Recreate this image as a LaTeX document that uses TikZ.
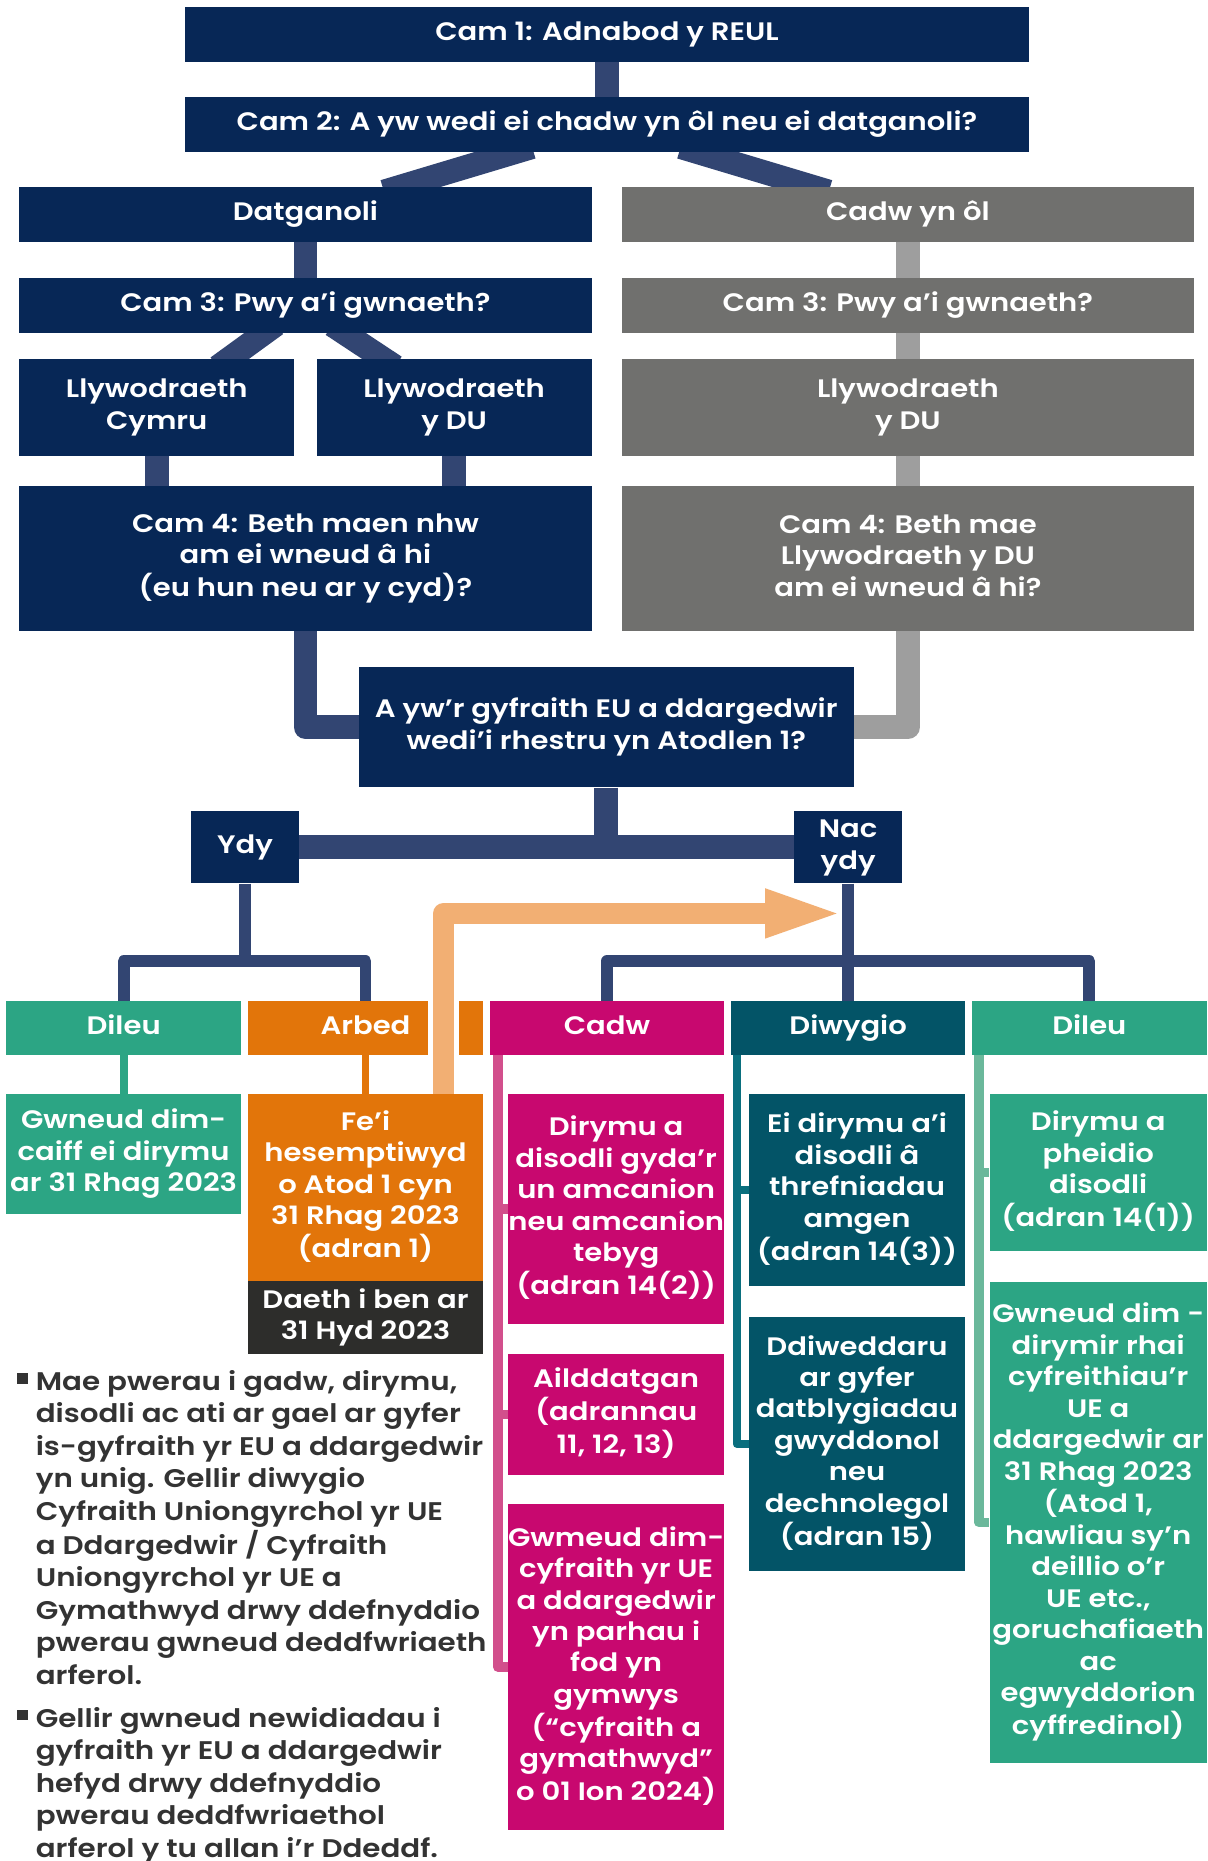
\documentclass[tikz,border=0pt]{standalone}
\usepackage{fontspec}
\setmainfont{Poppins}[UprightFont={* SemiBold}, FakeStretch=1.15]
\usetikzlibrary{backgrounds}
\definecolor{navy}{HTML}{072756}
\definecolor{navyline}{HTML}{324572}
\definecolor{greybox}{HTML}{70706E}
\definecolor{greyline}{HTML}{9E9E9E}
\definecolor{cgreen}{HTML}{2CA584}
\definecolor{corange}{HTML}{E2750A}
\definecolor{lorange}{HTML}{F2AF73}
\definecolor{cmag}{HTML}{C8086F}
\definecolor{pinkline}{HTML}{D24F8C}
\definecolor{dteal}{HTML}{035467}
\definecolor{tealline}{HTML}{0A6F7E}
\definecolor{lgreenline}{HTML}{6BB89B}
\definecolor{dgrey}{HTML}{2D2D2B}
\definecolor{txtgrey}{HTML}{333333}
\newcommand{\boxtxt}[1]{\makebox[0pt]{\begin{tabular}{@{}c@{}}#1\end{tabular}}}
\tikzset{
  box/.style={inner sep=0pt, text=white, font=\fontsize{21.3}{26.5}\selectfont},
  conn/.style={draw=navyline, line width=20pt, line join=round},
  gconn/.style={draw=greyline, line width=20pt, line join=round},
  tconn/.style={draw=navyline, line width=10pt, line join=round},
  sidel/.style={line width=7.5pt, line join=round},
  bultext/.style={inner sep=0pt, anchor=base west, text=txtgrey, font=\fontsize{21.5}{27.4}\selectfont},
  bulsq/.style={fill=txtgrey, inner sep=0pt, minimum width=10pt, minimum height=9pt},
}
\begin{document}
\begin{tikzpicture}[x=1pt,y=-1pt]
\useasboundingbox (0,0) rectangle (1018,1568.3);
% top
\node[box, fill=navy, minimum width=711pt, minimum height=46.4pt] (cam1) at (511.5,28.8) {\boxtxt{Cam 1: Adnabod y REUL}};
\node[box, fill=navy, minimum width=711pt, minimum height=46.1pt] (cam2) at (511.5,104.75) {\boxtxt{Cam 2: A yw wedi ei chadw yn ôl neu ei datganoli?}};
\node[box, fill=navy, minimum width=482.4pt, minimum height=46.1pt] (datg) at (257.4,180.65) {\boxtxt{Datganoli}};
\node[box, fill=greybox, minimum width=482.4pt, minimum height=46.1pt] (cadwyn) at (765.1,180.65) {\boxtxt{Cadw yn ôl}};
\node[box, fill=navy, minimum width=482.4pt, minimum height=46pt] (cam3L) at (257.4,257.3) {\boxtxt{Cam 3: Pwy a’i gwnaeth?}};
\node[box, fill=greybox, minimum width=482.4pt, minimum height=46pt] (cam3R) at (765.1,257.3) {\boxtxt{Cam 3: Pwy a’i gwnaeth?}};
\node[box, fill=navy, minimum width=231.8pt, minimum height=81.5pt] (llywC) at (132.1,343.25) {\boxtxt{Llywodraeth\\Cymru}};
\node[box, fill=navy, minimum width=231.8pt, minimum height=81.5pt] (llywDU) at (382.7,343.25) {\boxtxt{Llywodraeth\\y DU}};
\node[box, fill=greybox, minimum width=482.4pt, minimum height=81.5pt] (llywR) at (765.1,343.25) {\boxtxt{Llywodraeth\\y DU}};
\node[box, fill=navy, minimum width=482.4pt, minimum height=121.8pt] (cam4L) at (257.4,470.5) {\boxtxt{Cam 4: Beth maen nhw\\am ei wneud â hi\\(eu hun neu ar y cyd)?}};
\node[box, fill=greybox, minimum width=482.4pt, minimum height=121.8pt] (cam4R) at (765.1,470.5) {\boxtxt{Cam 4: Beth mae\\Llywodraeth y DU\\am ei wneud â hi?}};
\node[box, fill=navy, minimum width=416.8pt, minimum height=101.5pt] (ayw) at (510.9,612.85) {\boxtxt{A yw’r gyfraith EU a ddargedwir\\wedi’i rhestru yn Atodlen 1?}};
\node[box, fill=navy, minimum width=91pt, minimum height=61.1pt] (ydy) at (206.5,713.95) {\boxtxt{Ydy}};
\node[box, fill=navy, minimum width=90.9pt, minimum height=61.1pt] (nac) at (714.75,713.95) {\boxtxt{Nac\\ydy}};
% headers
\node[box, fill=cgreen, minimum width=198pt, minimum height=45.3pt] (dileuL) at (104.2,866.25) {\boxtxt{Dileu}};
\node[box, fill=corange, minimum width=198pt, minimum height=45.3pt] (arbed) at (308,866.25) {\boxtxt{Arbed}};
\node[box, fill=cmag, minimum width=197pt, minimum height=45.3pt] (cadw) at (511.5,866.25) {\boxtxt{Cadw}};
\node[box, fill=dteal, minimum width=197.5pt, minimum height=45.3pt] (diwygio) at (714.75,866.25) {\boxtxt{Diwygio}};
\node[box, fill=cgreen, minimum width=198pt, minimum height=45.3pt] (dileuR) at (918,866.25) {\boxtxt{Dileu}};
% lower boxes
\node[box, fill=cgreen, minimum width=198pt, minimum height=101.1pt] (gwneudL) at (104.2,972.55) {\boxtxt{Gwneud dim-\\caiff ei dirymu\\ar 31 Rhag 2023}};
\node[box, fill=corange, minimum width=198pt, minimum height=157.5pt] (fei) at (308,1000.75) {\boxtxt{Fe’i\\hesemptiwyd\\o Atod 1 cyn\\31 Rhag 2023\\(adran 1)}};
\node[box, fill=dgrey, minimum width=198pt, minimum height=61.5pt] (daeth) at (308,1110.25) {\boxtxt{Daeth i ben ar\\31 Hyd 2023}};
\node[box, fill=cmag, minimum width=181.5pt, minimum height=193.6pt] (cadw1) at (519.25,1018.8) {\boxtxt{Dirymu a\\disodli gyda'r\\un amcanion\\neu amcanion\\tebyg\\(adran 14(2))}};
\node[box, fill=cmag, minimum width=181.5pt, minimum height=101.7pt] (cadw2) at (519.25,1191.95) {\boxtxt{Ailddatgan\\(adrannau\\11, 12, 13)}};
\node[box, fill=cmag, minimum width=181.5pt, minimum height=274.8pt] (cadw3) at (519.25,1404.8) {\boxtxt{Gwmeud dim-\\cyfraith yr UE\\a ddargedwir\\yn parhau i\\fod yn\\gymwys\\(“cyfraith a\\gymathwyd”\\o 01 Ion 2024)}};
\node[box, fill=dteal, minimum width=182.5pt, minimum height=162.1pt] (diw1) at (722.25,1003.05) {\boxtxt{Ei dirymu a’i\\disodli â\\threfniadau\\amgen\\(adran 14(3))}};
\node[box, fill=dteal, minimum width=182.5pt, minimum height=214.2pt] (diw2) at (722.25,1216.7) {\boxtxt{Ddiweddaru\\ar gyfer\\datblygiadau\\gwyddonol\\neu\\dechnolegol\\(adran 15)}};
\node[box, fill=cgreen, minimum width=183pt, minimum height=132.1pt] (dil1) at (925.5,988.05) {\boxtxt{Dirymu a\\pheidio\\disodli\\(adran 14(1))}};
\node[box, fill=cgreen, minimum width=183pt, minimum height=405.8pt] (dil2) at (925.5,1282.9) {\boxtxt{Gwneud dim -\\dirymir rhai\\cyfreithiau’r\\UE a\\ddargedwir ar\\31 Rhag 2023\\(Atod 1,\\hawliau sy'n\\deillio o'r\\UE etc.,\\goruchafiaeth\\ac\\egwyddorion\\cyffredinol)}};
% bullets
\node[bulsq] (sq1) at (19,1161.5) {};
\node[bultext] (bul1) at (30,1171.6) {\begin{tabular}[t]{@{}l@{}}Mae pwerau i gadw, dirymu,\\disodli ac ati ar gael ar gyfer\\is-gyfraith yr EU a ddargedwir\\yn unig. Gellir diwygio\\Cyfraith Uniongyrchol yr UE\\a Ddargedwir / Cyfraith\\Uniongyrchol yr UE a\\Gymathwyd drwy ddefnyddio\\pwerau gwneud deddfwriaeth\\arferol.\end{tabular}};
\node[bulsq] (sq2) at (19,1445.3) {};
\node[bultext] (bul2) at (30,1455.6) {\begin{tabular}[t]{@{}l@{}}Gellir gwneud newidiadau i\\gyfraith yr EU a ddargedwir\\hefyd drwy ddefnyddio\\pwerau deddfwriaethol\\arferol y tu allan i'r Ddeddf.\end{tabular}};
% helper coordinates
\coordinate (ybar) at (0,810);
\coordinate (arrx) at (374,0);
\coordinate (arry) at (0,769.8);
\coordinate (headbase) at (646,769.8);
\coordinate (px) at (419.5,0);
\coordinate (tx) at (621,0);
\coordinate (gx) at (825,0);
\begin{pgfonlayer}{background}
\fill[white] (0,0) rectangle (1018,1568.3);
\draw[conn] (cam1) -- (cam2);
\draw[conn, shorten <=-14pt, shorten >=-14pt] ([xshift=-76.5pt]cam2.south) -- ([xshift=79.6pt]datg.north);
\draw[conn, shorten <=-14pt, shorten >=-14pt] ([xshift=75.5pt]cam2.south) -- ([xshift=-80.1pt]cadwyn.north);
\draw[conn] (datg) -- (cam3L);
\draw[conn, shorten <=-12pt, shorten >=-12pt] ([xshift=-34.4pt]cam3L.south) -- ([xshift=60.9pt]llywC.north);
\draw[conn, shorten <=-12pt, shorten >=-12pt] ([xshift=32.6pt]cam3L.south) -- ([xshift=-59.7pt]llywDU.north);
\draw[conn] (llywC.south) -- (llywC.south |- cam4L.north);
\draw[conn] (llywDU.south) -- (llywDU.south |- cam4L.north);
\draw[gconn] (cadwyn) -- (cam3R);
\draw[gconn] (cam3R) -- (llywR);
\draw[gconn] (llywR) -- (cam4R);
\draw[conn] (cam4L.south) -- (cam4L.south |- ayw.west) -- (ayw.west);
\draw[gconn] (cam4R.south) -- (cam4R.south |- ayw.east) -- (ayw.east);
\draw[conn] (ayw.south) -- (ayw.south |- ydy.east);
\draw[conn] (ydy) -- (nac);
\draw[tconn] (ydy.south) -- (ydy.south |- ybar);
\draw[tconn] (dileuL.north) -- (dileuL.north |- ybar) -- (arbed.north |- ybar) -- (arbed.north);
\draw[tconn] (nac.south) -- (diwygio.north);
\draw[tconn] (cadw.north) -- (cadw.north |- ybar) -- (dileuR.north |- ybar) -- (dileuR.north);
\draw[draw=cgreen, line width=6.5pt] (dileuL) -- (gwneudL);
\draw[draw=corange, line width=6.5pt] (arbed) -- (fei);
% side lines
\draw[sidel, draw=pinkline, line width=8pt] (cadw.south -| px) -- (px |- cadw3.west) -- (cadw3.west);
\draw[sidel, draw=pinkline, line width=8pt] (px |- cadw1.west) -- (cadw1.west);
\draw[sidel, draw=pinkline, line width=8pt] (px |- cadw2.west) -- (cadw2.west);
\draw[sidel, draw=tealline, line width=7pt] (diwygio.south -| tx) -- (tx |- diw2.west) -- (diw2.west);
\draw[sidel, draw=tealline, line width=7pt] (tx |- diw1.west) -- (diw1.west);
\draw[sidel, draw=lgreenline, line width=8pt] (dileuR.south -| gx) -- (gx |- dil2.west) -- (dil2.west);
\draw[sidel, draw=lgreenline, line width=8pt] (gx |- dil1.west) -- (dil1.west);
\end{pgfonlayer}
% orange arrow
\draw[white, line width=26pt] (arbed.north -| arrx) -- (arbed.south -| arrx);
\draw[lorange, line width=18pt, line join=round] (fei.north -| arrx) -- (arrx |- arry) -- (headbase);
\fill[lorange] (644.7,748.5) -- (705,769.8) -- (644.7,791) -- cycle;
\end{tikzpicture}
\end{document}
